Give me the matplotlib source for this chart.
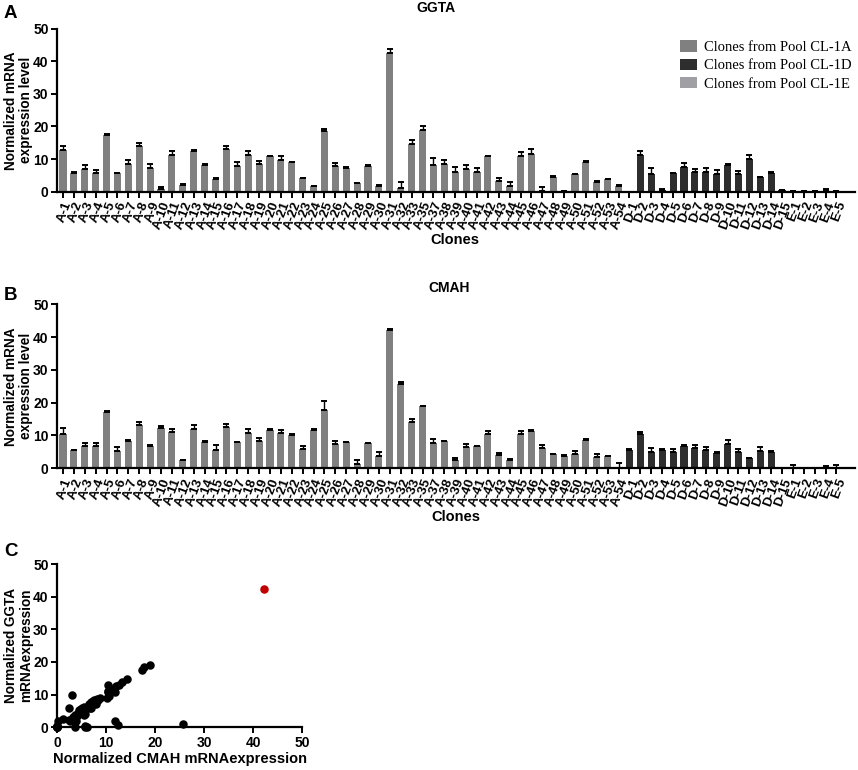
import matplotlib
matplotlib.use("Agg")
import matplotlib.pyplot as plt
from matplotlib.patches import Patch
import numpy as np

plt.rcParams['font.family'] = ['Liberation Sans', 'DejaVu Sans']
plt.rcParams['font.weight'] = 'bold'
plt.rcParams['axes.labelweight'] = 'bold'

# ---------------- data ----------------
a_ids = list(range(1, 34)) + [35] + list(range(37, 55))
clones_A = [f"A-{i}" for i in a_ids]
clones_D = [f"D-{i}" for i in range(1, 16)]
clones_E = [f"E-{i}" for i in range(1, 6)]

ggta_A = [12.9, 5.7, 6.9, 5.8, 17.4, 5.6, 8.6, 14.0, 7.2, 0.8, 11.2, 2.2, 12.6, 8.2, 3.9, 13.0, 8.0,
          11.2, 8.4, 10.8, 9.7, 9.0, 4.1, 1.9, 18.6, 7.9, 7.2, 2.6, 8.0, 1.9, 42.4, 1.0, 14.7, 19.0,
          8.2, 8.5, 5.9, 7.0, 6.0, 10.8, 3.4, 1.9, 11.1, 11.6, 0.1, 4.5, 0.1, 5.3, 9.0, 3.1, 3.8, 1.9]
ggta_D = [0.0, 11.2, 5.5, 0.5, 5.6, 7.6, 6.0, 6.1, 5.4, 8.3, 5.4, 10.0, 4.5, 5.8, 0.4]
ggta_E = [0.1, 0.2, 0.1, 0.3, 0.1]

ggta_err_A = [1.2, 0.2, 1.2, 0.8, 0.2, 0.2, 1.2, 1.0, 1.3, 0.6, 1.3, 0.2, 0.2, 0.2, 0.2, 1.0, 1.0,
              1.3, 1.0, 0.2, 1.2, 0.2, 0.0, 0.0, 0.6, 1.0, 0.3, 0.2, 0.2, 0.2, 1.3, 2.0, 1.3, 1.3,
              2.1, 1.3, 1.6, 1.3, 1.3, 0.2, 0.9, 1.1, 1.1, 1.4, 1.2, 0.2, 0.2, 0.2, 0.3, 0.2, 0.2, 0.2]
ggta_err_D = [0.0, 1.2, 1.9, 0.2, 0.2, 1.3, 1.1, 1.2, 1.2, 0.2, 1.1, 1.3, 0.0, 0.2, 0.2]
ggta_err_E = [0.1, 0.1, 0.1, 0.4, 0.0]

cmah_A = [10.5, 5.5, 6.9, 6.9, 17.3, 5.3, 8.2, 13.3, 6.9, 12.4, 11.0, 2.4, 12.1, 8.0, 5.5, 12.6, 7.9,
          10.9, 8.4, 11.8, 10.7, 10.3, 5.8, 11.8, 17.8, 7.4, 7.9, 1.3, 7.6, 3.9, 42.2, 25.7, 14.2, 18.9,
          7.7, 8.2, 2.5, 6.6, 6.7, 10.4, 4.0, 2.6, 10.5, 11.4, 6.2, 4.3, 3.7, 4.5, 8.7, 3.3, 3.6, 0.2]
cmah_D = [5.7, 10.6, 5.1, 5.7, 4.9, 6.9, 6.2, 5.5, 4.8, 7.5, 5.0, 3.0, 5.2, 5.1, 0.1]
cmah_E = [0.1, 0.1, 0.0, 0.1, 0.1]

cmah_err_A = [1.8, 0.2, 0.7, 0.8, 0.2, 1.3, 0.3, 0.9, 0.3, 0.6, 1.1, 0.2, 1.2, 0.2, 1.7, 0.9, 0.2,
              1.2, 0.9, 0.2, 1.1, 0.2, 1.1, 0.3, 2.6, 1.0, 0.2, 1.2, 0.2, 1.1, 0.3, 0.7, 0.8, 0.2,
              1.1, 0.2, 0.7, 0.7, 0.2, 1.1, 0.8, 0.2, 1.0, 0.2, 0.8, 0.2, 0.5, 0.9, 0.2, 1.0, 0.2, 1.4]
cmah_err_D = [0.3, 0.6, 1.0, 0.2, 1.1, 0.2, 0.9, 0.9, 0.2, 1.1, 0.9, 0.2, 1.3, 0.3, 0.1]
cmah_err_E = [0.9, 0.1, 0.1, 0.7, 1.0]

legend_labels = ["Clones from Pool CL-1A", "Clones from Pool CL-1D", "Clones from Pool CL-1E"]
pool_colors = ["#808080", "#2e2e2e", "#a0a0a4"]
yticks = [0, 10, 20, 30, 40, 50]

# ---------------- figure ----------------
W, H = 858, 770
fig = plt.figure(figsize=(W / 100, H / 100), dpi=100)

def fx(px):
    return px / W

def fy(py):
    return 1 - py / H

clones = clones_A + clones_D + clones_E
colors = ([pool_colors[0]] * len(clones_A) + [pool_colors[1]] * len(clones_D)
          + [pool_colors[2]] * len(clones_E))

def style_axes(ax):
    for s in ['top', 'right']:
        ax.spines[s].set_visible(False)
    for s in ['left', 'bottom']:
        ax.spines[s].set_linewidth(1.6)
    ax.tick_params(width=1.4, length=4, direction='out', pad=2)

def bar_panel(rect, vals, errs):
    ax = fig.add_axes(rect)
    x = np.arange(len(clones))
    ax.bar(x, vals, width=0.65, color=colors, zorder=2)
    ax.errorbar(x, vals, yerr=[np.zeros(len(errs)), errs], fmt='none', ecolor='black',
                elinewidth=1.0, capsize=2, capthick=1.4, zorder=3)
    ax.set_xlim(-0.55, 72.7)
    ax.set_ylim(0, 50)
    ax.set_yticks(yticks)
    ax.set_xticks(x)
    ax.set_xticklabels(clones, rotation=70, ha='right', rotation_mode='anchor', fontsize=9.5,
                       fontweight='bold')
    ax.tick_params(axis='y', labelsize=10)
    ax.set_ylabel("Normalized mRNA\nexpression level", fontsize=9.8, fontweight='bold',
                  linespacing=1.05)
    ax.yaxis.set_label_coords((33 - 57) / 798, 0.5)
    style_axes(ax)
    return ax

ggta = ggta_A + ggta_D + ggta_E
ggta_err = ggta_err_A + ggta_err_D + ggta_err_E
cmah = cmah_A + cmah_D + cmah_E
cmah_err = cmah_err_A + cmah_err_D + cmah_err_E

axA = bar_panel([fx(57), fy(191.7), fx(855) - fx(57), (191.7 - 28.7) / H], ggta, ggta_err)
axB = bar_panel([fx(57), fy(468.3), fx(855) - fx(57), (468.3 - 304.3) / H], cmah, cmah_err)

fig.text(fx(436), fy(8), "GGTA", ha='center', va='center', fontsize=10, fontweight='bold')
fig.text(fx(449), fy(288), "CMAH", ha='center', va='center', fontsize=10, fontweight='bold')
fig.text(fx(455), fy(240), "Clones", ha='center', va='center', fontsize=10.5, fontweight='bold')
fig.text(fx(456), fy(517), "Clones", ha='center', va='center', fontsize=10.5, fontweight='bold')

handles = [Patch(facecolor=c, edgecolor='none') for c in pool_colors]
leg = axA.legend(handles, legend_labels, loc='upper left', bbox_to_anchor=(fx(673), fy(33)),
                 bbox_transform=fig.transFigure, frameon=False, borderpad=0,
                 handlelength=1.15, handleheight=0.85, handletextpad=0.45, labelspacing=0.3,
                 prop={'family': ['Liberation Serif', 'DejaVu Serif'], 'size': 10.5, 'weight': 'normal'})

# ---------------- scatter ----------------
axC = fig.add_axes([fx(57), fy(727.3), fx(302) - fx(57), (727.3 - 564) / H])
cm = np.array(cmah)
gg = np.array(ggta)
imax = int(np.argmax(gg))
mask = np.ones(len(gg), bool)
mask[imax] = False
axC.scatter(cm[mask], gg[mask], s=26, color='black', zorder=3, clip_on=False)
axC.scatter(cm[imax], gg[imax], s=26, color='#c00000', zorder=3, clip_on=False)
axC.set_xlim(0, 50)
axC.set_ylim(0, 50)
axC.set_xticks(yticks)
axC.set_yticks(yticks)
axC.tick_params(labelsize=10)
axC.set_xlabel("Normalized CMAH mRNAexpression", fontsize=10.5, fontweight='bold')
axC.xaxis.set_label_coords(0.5, -(752 - 727.3) / 163.3)
axC.set_ylabel("Normalized GGTA\nmRNAexpression", fontsize=9.8, fontweight='bold', linespacing=1.05)
axC.yaxis.set_label_coords((33 - 57) / 245, 0.5)
style_axes(axC)

# panel letters
fig.text(fx(4), fy(14), "A", fontsize=13.5, fontweight='bold', va='center', ha='left')
fig.text(fx(4), fy(295), "B", fontsize=13.5, fontweight='bold', va='center', ha='left')
fig.text(fx(4), fy(551), "C", fontsize=13.5, fontweight='bold', va='center', ha='left')

fig.savefig("out.png", dpi=100)
